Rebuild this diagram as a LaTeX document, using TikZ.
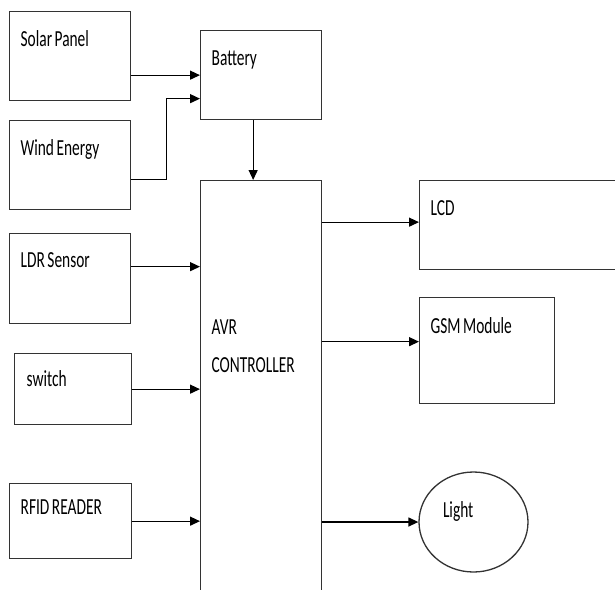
\documentclass[tikz,border=0pt]{standalone}
\usepackage{fontspec}
\setmainfont{Carlito}[FakeStretch=0.67]
\usetikzlibrary{arrows.meta,positioning,shapes.geometric}
\newcommand\gap{\hspace{2.5pt}}

\begin{document}
\begin{tikzpicture}[x=1pt,y=-1pt,font=\fontsize{23}{37.7}\selectfont,
box/.style={draw=black!80,line width=1.3pt,anchor=north west,align=left,inner xsep=11pt,inner ysep=0pt,text width=99pt,text height=35pt,text depth=54pt},
arr/.style={-{Triangle[length=10pt,width=9pt]},line width=1.3pt}]
\useasboundingbox (0,0) rectangle (615,589);
% sources
\node[box] (sol) at (9,11) {Solar\gap Panel};
\node[box] (wnd) at (9,120) {Wind\gap Energy};
\node[box] (bat) at (200,30) {Battery};
% inputs
\node[box,text height=34pt,text depth=56pt] (ldr) at (9,233) {LDR\gap Sensor};
\node[box,text width=93pt,inner xsep=12pt,text height=33pt,text depth=38pt] (sw) at (14,353) {switch};
\node[box,text width=100pt,text height=31pt,text depth=44pt] (rf) at (9,483) {RFID\gap READER};
% controller
\node[box,text height=154pt,text depth=300pt] (avr) at (200,180) {AVR\\CONTROLLER};
% outputs
\node[box,text width=230pt] (lcd) at (419,180) {LCD};
\node[box,text width=113pt,text height=36pt,text depth=70pt] (gsm) at (419,297) {GSM\gap Module};
\node[draw=black!80,line width=1.3pt,ellipse,inner sep=0pt,minimum width=109pt,minimum height=100pt,
  text width=61pt,align=left,text height=15pt,text depth=25pt] (lit) at (473.5,522) {Light};
% connectors
\draw[arr] (sol.east |- bat.west) -- (bat.west);
\draw[arr] ([yshift=-14pt]wnd.east) -- ++(35,0) |- ([yshift=-23.5pt]bat.west);
\draw[arr] ([xshift=-8pt]bat.south) -- ([xshift=-8pt]bat.south |- avr.north);
\draw[arr] ([yshift=12pt]ldr.east) -- ([yshift=12pt]ldr.east -| avr.west);
\draw[arr] (sw.east) -- (sw.east -| avr.west);
\draw[arr] (rf.east) -- (rf.east -| avr.west);
\draw[arr] ([yshift=3pt]lcd.west -| avr.east) -- ([yshift=3pt]lcd.west);
\draw[arr] ([yshift=9pt]gsm.west -| avr.east) -- ([yshift=9pt]gsm.west);
\draw[arr] (lit.west -| avr.east) -- (lit.west);
\end{tikzpicture}
\end{document}
